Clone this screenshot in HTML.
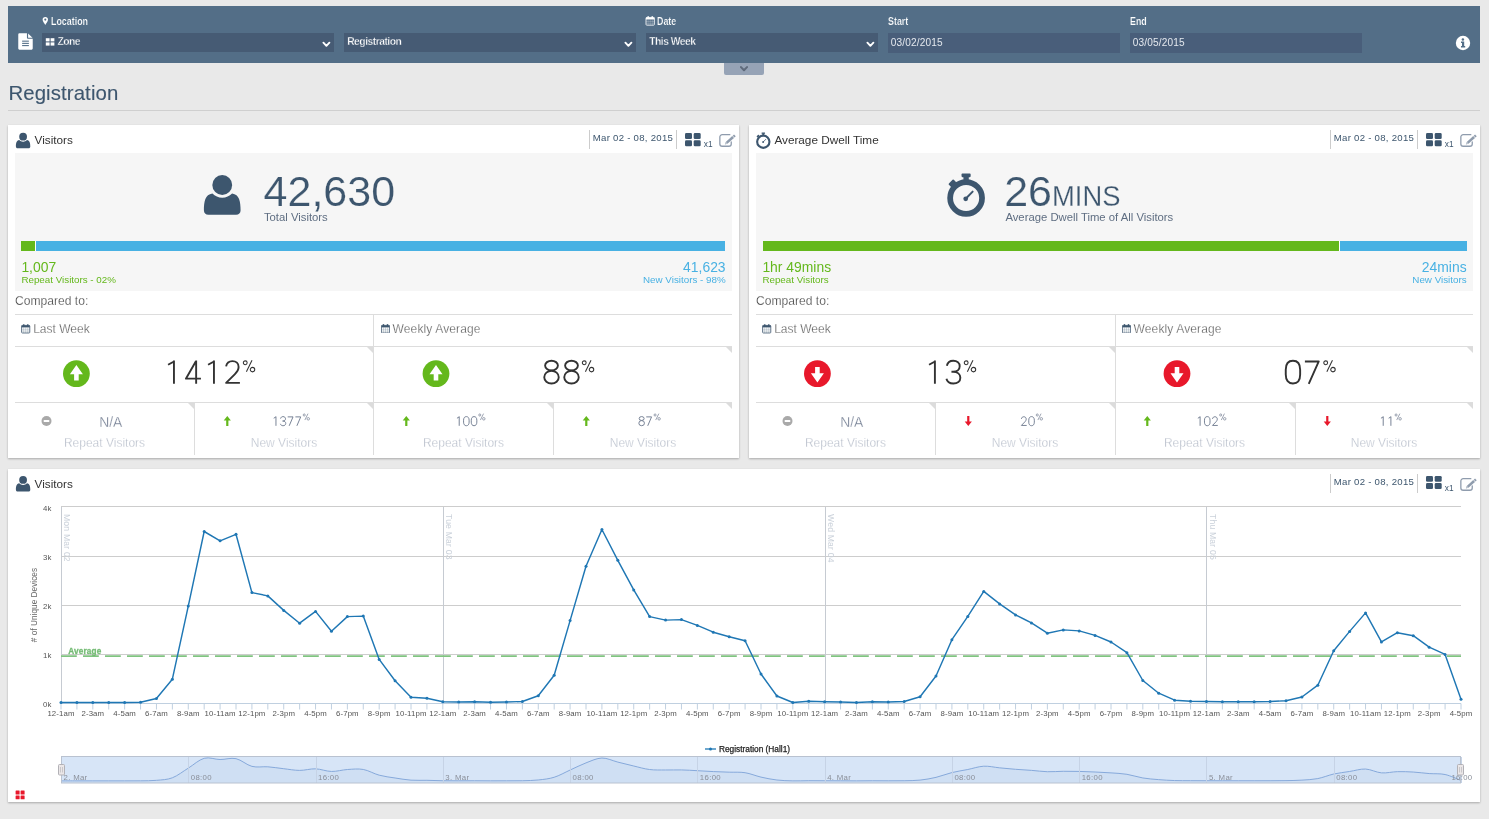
<!DOCTYPE html>
<html><head><meta charset="utf-8"><title>Registration</title>
<style>
*{box-sizing:border-box}
html,body{margin:0;padding:0}
body{width:1489px;height:819px;background:#e9e9e9;font-family:"Liberation Sans",sans-serif;position:relative;overflow:hidden;color:#333}
.abs,.abs *{position:absolute}
div,span,svg{position:absolute;white-space:nowrap}
.bar{left:8px;top:6px;width:1472px;height:57px;background:#536e87}
.sel{top:27px;height:19px;background:#465b74}
.inp{top:27px;height:20px;background:#495e7a}
.lbl{color:#fff;font-weight:bold;font-size:10.1px;line-height:12px;top:9.7px;transform:scaleX(.88);transform-origin:0 50%;-webkit-text-stroke:.2px #536e87}
.sv{color:#fff;font-size:10.3px;line-height:12px;top:2.6px;font-weight:bold;letter-spacing:-.5px;-webkit-text-stroke:.28px #465b74}
.iv{color:#e4e8ee;font-size:10.1px;line-height:12px;top:3.6px;letter-spacing:.14px}
.tab{left:724px;top:63px;width:40px;height:12px;background:#96a3b6;border-radius:0 0 2px 2px}
h1{position:absolute;margin:0;left:8.4px;top:81px;font-size:20.4px;line-height:24px;font-weight:normal;color:#3d566e;letter-spacing:.1px;-webkit-text-stroke:.12px #3d566e}
.hr{left:8px;top:110px;width:1472px;height:1px;background:#cfcfcf}
.panel{background:#fff;box-shadow:0 1px 2px rgba(0,0,0,.28)}
.ptitle{font-size:11.75px;line-height:14px;color:#333;left:26.6px;top:8.2px}
.vline{width:1px;background:#ccc}
.pdate{font-size:9.6px;line-height:12px;color:#3d566e;top:7.4px;letter-spacing:.27px}
.x1{font-size:8.3px;line-height:10px;color:#3d566e;top:13.5px}
.gray{background:#f6f6f6;left:7px;top:28px;width:717px;height:138px}
.bignum{font-size:43px;line-height:44px;color:#3d566e;top:16.4px;-webkit-text-stroke:.2px #f6f6f6;transform:scale(1,1.005);transform-origin:0 100%}
.sub{font-size:11.3px;line-height:12px;color:#5f6e82;top:57.6px}
.pbar{top:88px;height:10px}
.lv{font-size:13.9px;line-height:14px;top:106.6px}
.ll{font-size:9.8px;line-height:11px;top:121.4px}
.cmp{font-size:12.1px;line-height:14px;left:7px;top:169px;color:#333;-webkit-text-stroke:.25px #fff}
.hl{height:1px;background:#ddd}
.vl{width:1px;background:#ddd}
.colh{font-size:12px;line-height:14px;color:#444;top:197.2px;-webkit-text-stroke:.3px #fff}
.pct{font-size:34px;line-height:36px;color:#333;top:229.2px;-webkit-text-stroke:1.3px #fff}
.pct sup{position:static;font-size:16px;line-height:0;vertical-align:14.2px;margin-left:2px;-webkit-text-stroke:.5px #fff}
.sp{font-size:13.9px;line-height:14px;color:#6f7a8f;top:289.6px;-webkit-text-stroke:.3px #fff;text-align:center}
.sp sup{position:static;font-size:8.6px;line-height:0;vertical-align:5.3px;margin-left:1px;-webkit-text-stroke:.25px #fff}
.sl{font-size:12px;line-height:14px;color:#b3bac7;top:310.8px;-webkit-text-stroke:.3px #fff;text-align:center}
.tri{width:0;height:0;border-top:6px solid #dcdcdc;border-left:6px solid transparent}
#w{left:0;top:0;width:1489px;height:819px;will-change:transform}

.cf{font-family:"Liberation Sans",sans-serif}
.chart{left:0;top:0}
</style></head>
<body>
<div id="w"><div class="bar"><svg style="left:10px;top:27px;overflow:visible" width="14.6" height="16.4" viewBox="-0.205 -0.311 15 17"><path d="M1.2 0 H9 V4.6 A1 1 0 0 0 10 5.6 H15 V15.8 A1.2 1.2 0 0 1 13.8 17 H1.2 A1.2 1.2 0 0 1 0 15.8 V1.2 A1.2 1.2 0 0 1 1.2 0 Z M10.2 0.2 L14.8 4.6 H10.2 Z" fill="#fff"/><g fill="#536e87"><rect x="4" y="7.6" width="7" height="1.1"/><rect x="4" y="9.9" width="7" height="1.1"/><rect x="4" y="12.2" width="7" height="1.1"/></g></svg><svg style="left:34px;top:11px;overflow:visible" width="5.4" height="8" viewBox="-0.600 0.000 5.4 8"><path d="M2.7 0 A2.7 2.7 0 0 1 5.4 2.7 C5.4 4.4 3.4 6.4 2.7 8 C2 6.4 0 4.4 0 2.7 A2.7 2.7 0 0 1 2.7 0 Z" fill="#fff"/><circle cx="2.7" cy="2.6" r="1.05" fill="#536e87"/></svg><span class="lbl" style="left:42.6px">Location</span><svg style="left:637px;top:10px;overflow:visible" width="9.2" height="9.6" viewBox="-0.587 0.000 9 9.4"><rect x=".4" y="1.4" width="8.2" height="7.6" rx=".8" fill="none" stroke="#fff" stroke-width=".8"/><rect x=".4" y="1.4" width="8.2" height="2" fill="#fff"/><g stroke="#fff" stroke-width=".4" stroke-opacity=".55"><path d="M2.45 3.4V9M4.5 3.4V9M6.55 3.4V9M.4 5.3H8.6M.4 7.1H8.6"/></g><rect x="1.9" y="0" width="1.2" height="2.4" rx=".5" fill="#fff"/><rect x="5.9" y="0" width="1.2" height="2.4" rx=".5" fill="#fff"/></svg><span class="lbl" style="left:649.4px">Date</span><span class="lbl" style="left:879.6px">Start</span><span class="lbl" style="left:1121.6px">End</span><div class="sel" style="left:34px;width:292px"><svg style="left:3px;top:5px;overflow:visible" width="8.6" height="7.4" viewBox="-0.800 -0.200 8.6 7.4"><g fill="#fff"><rect width="3.8" height="3.2"/><rect x="4.8" width="3.8" height="3.2"/><rect y="4.2" width="3.8" height="3.2"/><rect x="4.8" y="4.2" width="3.8" height="3.2"/></g></svg><span class="sv" style="left:15.4px">Zone</span><svg style="left:280px;top:8px;overflow:visible" width="8" height="5.6" viewBox="-0.400 -0.600 8 5.6"><path d="M1 1.1 L4 4.2 L7 1.1" fill="none" stroke="#fff" stroke-width="1.9" stroke-linecap="round" stroke-linejoin="round"/></svg></div><div class="sel" style="left:336px;width:292px"><span class="sv" style="left:3.2px">Registration</span><svg style="left:280px;top:8px;overflow:visible" width="8" height="5.6" viewBox="-0.400 -0.600 8 5.6"><path d="M1 1.1 L4 4.2 L7 1.1" fill="none" stroke="#fff" stroke-width="1.9" stroke-linecap="round" stroke-linejoin="round"/></svg></div><div class="sel" style="left:638px;width:232px"><span class="sv" style="left:3.2px">This Week</span><svg style="left:220px;top:8px;overflow:visible" width="8" height="5.6" viewBox="-0.400 -0.600 8 5.6"><path d="M1 1.1 L4 4.2 L7 1.1" fill="none" stroke="#fff" stroke-width="1.9" stroke-linecap="round" stroke-linejoin="round"/></svg></div><div class="inp" style="left:880px;width:232px"><span class="iv" style="left:2.8px">03/02/2015</span></div><div class="inp" style="left:1122px;width:232px"><span class="iv" style="left:2.8px">03/05/2015</span></div><svg style="left:1447px;top:29px;overflow:visible" width="14.4" height="14.4" viewBox="-0.800 -0.800 14.4 14.4"><circle cx="7.2" cy="7.2" r="7.2" fill="#fff"/><g fill="#536e87"><circle cx="7.1" cy="3.6" r="1.25"/><path d="M5.2 5.8 H8.4 V10.2 H9.4 V11.6 H5.2 V10.2 H6.2 V7.2 H5.2 Z"/></g></svg></div><div class="tab"><svg style="left:16px;top:3px" width="8" height="5.6" viewBox="0 0 8 5.6"><path d="M1 1.1 L4 4.2 L7 1.1" fill="none" stroke="#5f6a7b" stroke-width="2.05" stroke-linecap="round" stroke-linejoin="round"/></svg></div><h1>Registration</h1><div class="hr"></div><div class="panel" style="left:8px;top:125px;width:731px;height:333px"><svg class="" style="left:7px;top:7px;overflow:visible" width="14.4" height="15.6" viewBox="-2.313 -2.051 37 40"><path fill="#3d566e" d="M4.5 40 C1.8 40 0 38.4 0 35.5 C0 27 1.2 19.6 8.6 18.6 C11.2 21.3 14.6 22.8 18.5 22.8 C22.4 22.8 25.8 21.3 28.4 18.6 C35.8 19.6 37 27 37 35.5 C37 38.4 35.2 40 32.5 40 Z"/><circle cx="18.5" cy="10" r="11.4" fill="#fff"/><circle cx="18.5" cy="10" r="10" fill="#3d566e"/></svg><span class="ptitle" style="left:26.6px">Visitors</span><div class="vline" style="left:581px;top:5px;height:19px"></div><span class="pdate" style="left:584.8px">Mar 02 - 08, 2015</span><div class="vline" style="left:668px;top:5px;height:19px"></div><svg style="left:677px;top:8px;overflow:visible" width="15.7" height="13.1" viewBox="0.000 -0.100 15.7 13.1"><g fill="#3d566e"><rect x="0" y="0" width="7" height="5.9" rx="1.3"/><rect x="8.7" y="0" width="7" height="5.9" rx="1.3"/><rect x="0" y="7.2" width="7" height="5.9" rx="1.3"/><rect x="8.7" y="7.2" width="7" height="5.9" rx="1.3"/></g></svg><span class="x1" style="left:695.8px">x1</span><svg style="left:710px;top:8px;overflow:visible" width="18" height="14" viewBox="-0.600 -0.600 18 14"><path d="M11.2 1.05 H3.6 A2.35 2.35 0 0 0 1.25 3.4 V10.3 A2.35 2.35 0 0 0 3.6 12.65 H10.3 A2.35 2.35 0 0 0 12.65 10.3 V8.4" fill="none" stroke="#8f9cad" stroke-width="1.3" stroke-linecap="round"/><path d="M8 9.3 L14.5 3.4" stroke="#8f9cad" stroke-width="2.6"/><path d="M14.95 3 L16.3 1.8" stroke="#8f9cad" stroke-width="2.6"/><path d="M8.87 10.26 L7.13 8.34 L6.3 10.9 Z" fill="#8f9cad"/><circle cx="7.5" cy="9.8" r=".55" fill="#fff" fill-opacity=".7"/></svg><div class="gray"><svg class="" style="left:188px;top:21px;overflow:visible" width="36.7" height="40.3" viewBox="-0.907 -0.794 37 40"><path fill="#3d566e" d="M4.5 40 C1.8 40 0 38.4 0 35.5 C0 27 1.2 19.6 8.6 18.6 C11.2 21.3 14.6 22.8 18.5 22.8 C22.4 22.8 25.8 21.3 28.4 18.6 C35.8 19.6 37 27 37 35.5 C37 38.4 35.2 40 32.5 40 Z"/><circle cx="18.5" cy="10" r="11.4" fill="#f6f6f6"/><circle cx="18.5" cy="10" r="10" fill="#3d566e"/></svg><span class="bignum" style="left:248.6px">42,630</span><span class="sub" style="left:248.9px">Total Visitors</span><div class="pbar" style="left:6px;width:704px;background:#fff"></div><div class="pbar" style="left:6px;width:14px;background:#64b81c"></div><div class="pbar" style="left:21px;width:689px;background:#48b1e3"></div><span class="lv" style="left:6.4px;color:#64b81c">1,007</span><span class="ll" style="left:6.4px;color:#64b81c">Repeat Visitors - 02%</span><span class="lv" style="right:6.4px;color:#48b1e3">41,623</span><span class="ll" style="right:6.4px;color:#48b1e3">New Visitors - 98%</span></div><span class="cmp">Compared to:</span><div class="hl" style="left:7px;top:189px;width:717px"></div><div class="hl" style="left:7px;top:221px;width:717px"></div><div class="hl" style="left:7px;top:277px;width:717px"></div><div class="vl" style="left:365px;top:189px;height:141px"></div><div class="vl" style="left:186px;top:277px;height:53px"></div><div class="vl" style="left:545px;top:277px;height:53px"></div><div class="tri" style="left:359px;top:222px"></div><div class="tri" style="left:718px;top:222px"></div><div class="tri" style="left:180px;top:278px"></div><div class="tri" style="left:359px;top:278px"></div><div class="tri" style="left:539px;top:278px"></div><div class="tri" style="left:718px;top:278px"></div><svg style="left:13px;top:199px;overflow:visible" width="9" height="9.4" viewBox="-0.200 0.000 9 9.4"><rect x=".4" y="1.4" width="8.2" height="7.6" rx=".8" fill="none" stroke="#3d566e" stroke-width=".8"/><rect x=".4" y="1.4" width="8.2" height="2" fill="#3d566e"/><g stroke="#3d566e" stroke-width=".4" stroke-opacity=".55"><path d="M2.45 3.4V9M4.5 3.4V9M6.55 3.4V9M.4 5.3H8.6M.4 7.1H8.6"/></g><rect x="1.9" y="0" width="1.2" height="2.4" rx=".5" fill="#3d566e"/><rect x="5.9" y="0" width="1.2" height="2.4" rx=".5" fill="#3d566e"/></svg><span class="colh" style="left:25.2px">Last Week</span><svg style="left:373px;top:199px" width="9" height="9.4" viewBox="0 0 9 9.4"><rect x=".4" y="1.4" width="8.2" height="7.6" rx=".8" fill="none" stroke="#3d566e" stroke-width=".8"/><rect x=".4" y="1.4" width="8.2" height="2" fill="#3d566e"/><g stroke="#3d566e" stroke-width=".4" stroke-opacity=".55"><path d="M2.45 3.4V9M4.5 3.4V9M6.55 3.4V9M.4 5.3H8.6M.4 7.1H8.6"/></g><rect x="1.9" y="0" width="1.2" height="2.4" rx=".5" fill="#3d566e"/><rect x="5.9" y="0" width="1.2" height="2.4" rx=".5" fill="#3d566e"/></svg><span class="colh" style="left:384.6px;letter-spacing:.12px">Weekly Average</span><svg style="position:absolute;left:55px;top:235px;overflow:visible" width="26.8" height="26.8" viewBox="-0.000 -0.300 26.8 26.8"><circle cx="13.4" cy="13.4" r="13.4" fill="#64b81c"/><path d="M13.4 4.6 L19.9 13.9 H15.7 V20.2 H11.1 V13.9 H6.9 Z" fill="#fff"/></svg><svg style="left:154px;top:233px;overflow:visible" width="96" height="30" viewBox="0 0 96 30"><g transform="translate(0.50 2.50)" fill="none" stroke="#333" stroke-width="1.9" stroke-linejoin="round"><g transform="translate(0 0)"><path d="M11.45 0 V23.3 M5.6 4.3 L11.45 .95"/></g><g transform="translate(20 0)"><path d="M13.65 0 V23.3 M13.55 .6 L3.4 18.15 H18.45"/></g><g transform="translate(40 0)"><path d="M11.45 0 V23.3 M5.6 4.3 L11.45 .95"/></g><g transform="translate(60 0)"><path d="M3.6 5.9 C4.2 2.4 6.8 .6 9.9 .6 C13.6 .6 16.1 3 16.1 6.5 C16.1 9.3 14.6 11.4 12.2 13.8 L3.6 22.35 H17.4"/></g><g transform="translate(80 0)" stroke-width="1.05"><path d="M9.5 -.2 L3.9 11.3"/><circle cx="2.75" cy="2.25" r="1.9"/><circle cx="10" cy="9.1" r="2.25"/></g></g></svg><svg style="position:absolute;left:414px;top:235px;overflow:visible" width="26.8" height="26.8" viewBox="-0.600 -0.300 26.8 26.8"><circle cx="13.4" cy="13.4" r="13.4" fill="#64b81c"/><path d="M13.4 4.6 L19.9 13.9 H15.7 V20.2 H11.1 V13.9 H6.9 Z" fill="#fff"/></svg><svg style="left:533px;top:233px;overflow:visible" width="56" height="30" viewBox="0 0 56 30"><g transform="translate(0.50 2.50)" fill="none" stroke="#333" stroke-width="1.9" stroke-linejoin="round"><g transform="translate(0 0)"><ellipse cx="10" cy="5.05" rx="6.4" ry="4.85"/><ellipse cx="10" cy="16.65" rx="7.25" ry="6.4"/></g><g transform="translate(20 0)"><ellipse cx="10" cy="5.05" rx="6.4" ry="4.85"/><ellipse cx="10" cy="16.65" rx="7.25" ry="6.4"/></g><g transform="translate(40 0)" stroke-width="1.05"><path d="M9.5 -.2 L3.9 11.3"/><circle cx="2.75" cy="2.25" r="1.9"/><circle cx="10" cy="9.1" r="2.25"/></g></g></svg><svg style="position:absolute;left:33px;top:291px;overflow:visible" width="10" height="10" viewBox="-0.500 0.000 10 10"><circle cx="5" cy="5" r="5" fill="#a9a9a9"/><rect x="2.2" y="4" width="5.6" height="2" rx=".6" fill="#fff"/></svg><span class="sp" style="left:13.3px;width:179px">N/A</span><span class="sl" style="left:7px;width:179px">Repeat Visitors</span><svg style="position:absolute;left:215px;top:291px;overflow:visible" width="7.2" height="10" viewBox="-0.700 0.000 7.2 10"><path d="M3.6 0 L7.2 4.6 H4.7 V10 H2.5 V4.6 H0 Z" fill="#64b81c"/></svg><svg style="left:263px;top:287px;overflow:visible" width="40.8" height="18" viewBox="0 0 40.8 18"><g transform="translate(0.55 4.50)" fill="none" stroke="#737e92" stroke-linejoin="round"><g transform="scale(0.385 0.4)" stroke-width="2.45"><g transform="translate(0 0)"><path d="M11.45 0 V23.3 M5.6 4.3 L11.45 .95"/></g><g transform="translate(20 0)"><path d="M3.4 5.3 C4.1 2 6.6 .25 9.8 .25 C13.6 .25 16.25 2.4 16.25 5.7 C16.25 9.1 13.6 11.3 9.6 11.3 H8 M9.6 11.3 C14 11.3 16.9 13.6 16.9 17.3 C16.9 20.8 14 23.05 9.9 23.05 C6.3 23.05 3.7 21.4 3 18.3"/></g><g transform="translate(40 0)"><path d="M1.95 .95 H15.8 L5.8 23.3"/></g><g transform="translate(60 0)"><path d="M1.95 .95 H15.8 L5.8 23.3"/></g></g><g transform="translate(31.150000000000002 -2.75) scale(0.557)" stroke-width="1.25"><path d="M9.5 -.2 L3.9 11.3"/><circle cx="2.75" cy="2.25" r="1.9"/><circle cx="10" cy="9.1" r="2.25"/></g></g></svg><span class="sl" style="left:187px;width:178px">New Visitors</span><svg style="position:absolute;left:394px;top:291px;overflow:visible" width="7.2" height="10" viewBox="-0.700 0.000 7.2 10"><path d="M3.6 0 L7.2 4.6 H4.7 V10 H2.5 V4.6 H0 Z" fill="#64b81c"/></svg><svg style="left:446px;top:287px;overflow:visible" width="33.1" height="18" viewBox="0 0 33.1 18"><g transform="translate(0.80 4.50)" fill="none" stroke="#737e92" stroke-linejoin="round"><g transform="scale(0.385 0.4)" stroke-width="2.45"><g transform="translate(0 0)"><path d="M11.45 0 V23.3 M5.6 4.3 L11.45 .95"/></g><g transform="translate(20 0)"><path d="M10 .25 C14.6 .25 17.2 3.6 17.2 9.2 V14.1 C17.2 19.7 14.6 23.05 10 23.05 C5.4 23.05 2.8 19.7 2.8 14.1 V9.2 C2.8 3.6 5.4 .25 10 .25 Z"/></g><g transform="translate(40 0)"><path d="M10 .25 C14.6 .25 17.2 3.6 17.2 9.2 V14.1 C17.2 19.7 14.6 23.05 10 23.05 C5.4 23.05 2.8 19.7 2.8 14.1 V9.2 C2.8 3.6 5.4 .25 10 .25 Z"/></g></g><g transform="translate(23.450000000000003 -2.75) scale(0.557)" stroke-width="1.25"><path d="M9.5 -.2 L3.9 11.3"/><circle cx="2.75" cy="2.25" r="1.9"/><circle cx="10" cy="9.1" r="2.25"/></g></g></svg><span class="sl" style="left:366px;width:179px">Repeat Visitors</span><svg style="position:absolute;left:574px;top:291px;overflow:visible" width="7.2" height="10" viewBox="-0.700 0.000 7.2 10"><path d="M3.6 0 L7.2 4.6 H4.7 V10 H2.5 V4.6 H0 Z" fill="#64b81c"/></svg><svg style="left:629px;top:287px;overflow:visible" width="25.4" height="18" viewBox="0 0 25.4 18"><g transform="translate(0.80 4.50)" fill="none" stroke="#737e92" stroke-linejoin="round"><g transform="scale(0.385 0.4)" stroke-width="2.45"><g transform="translate(0 0)"><ellipse cx="10" cy="5.05" rx="6.4" ry="4.85"/><ellipse cx="10" cy="16.65" rx="7.25" ry="6.4"/></g><g transform="translate(20 0)"><path d="M1.95 .95 H15.8 L5.8 23.3"/></g></g><g transform="translate(15.75 -2.75) scale(0.557)" stroke-width="1.25"><path d="M9.5 -.2 L3.9 11.3"/><circle cx="2.75" cy="2.25" r="1.9"/><circle cx="10" cy="9.1" r="2.25"/></g></g></svg><span class="sl" style="left:546px;width:178px">New Visitors</span></div><div class="panel" style="left:749px;top:125px;width:731px;height:333px"><svg class="" style="left:7px;top:7px;overflow:visible" width="14.6" height="16.7" viewBox="0.000 -1.054 38 44"><g fill="#3d566e"><rect x="14.4" y="0" width="9.2" height="3.6" rx=".8"/><rect x="16.3" y="2" width="5.4" height="5"/><rect x="1.6" y="7.4" width="7" height="4.6" rx=".9" transform="rotate(-45 5.1 9.7)"/></g><circle cx="19" cy="24.6" r="16.2" fill="none" stroke="#3d566e" stroke-width="5.6"/><circle cx="18.6" cy="25.4" r="2.4" fill="#3d566e"/><path d="M18.6 25.4 L25.6 18.2" stroke="#3d566e" stroke-width="2" stroke-linecap="round"/></svg><span class="ptitle" style="left:25.4px">Average Dwell Time</span><div class="vline" style="left:581px;top:5px;height:19px"></div><span class="pdate" style="left:584.8px">Mar 02 - 08, 2015</span><div class="vline" style="left:668px;top:5px;height:19px"></div><svg style="left:677px;top:8px;overflow:visible" width="15.7" height="13.1" viewBox="0.000 -0.100 15.7 13.1"><g fill="#3d566e"><rect x="0" y="0" width="7" height="5.9" rx="1.3"/><rect x="8.7" y="0" width="7" height="5.9" rx="1.3"/><rect x="0" y="7.2" width="7" height="5.9" rx="1.3"/><rect x="8.7" y="7.2" width="7" height="5.9" rx="1.3"/></g></svg><span class="x1" style="left:695.8px">x1</span><svg style="left:710px;top:8px;overflow:visible" width="18" height="14" viewBox="-0.600 -0.600 18 14"><path d="M11.2 1.05 H3.6 A2.35 2.35 0 0 0 1.25 3.4 V10.3 A2.35 2.35 0 0 0 3.6 12.65 H10.3 A2.35 2.35 0 0 0 12.65 10.3 V8.4" fill="none" stroke="#8f9cad" stroke-width="1.3" stroke-linecap="round"/><path d="M8 9.3 L14.5 3.4" stroke="#8f9cad" stroke-width="2.6"/><path d="M14.95 3 L16.3 1.8" stroke="#8f9cad" stroke-width="2.6"/><path d="M8.87 10.26 L7.13 8.34 L6.3 10.9 Z" fill="#8f9cad"/><circle cx="7.5" cy="9.8" r=".55" fill="#fff" fill-opacity=".7"/></svg><div class="gray"><svg class="" style="left:191px;top:20px;overflow:visible" width="38" height="43.6" viewBox="-0.100 -0.606 38 44"><g fill="#3d566e"><rect x="14.4" y="0" width="9.2" height="3.6" rx=".8"/><rect x="16.3" y="2" width="5.4" height="5"/><rect x="1.6" y="7.4" width="7" height="4.6" rx=".9" transform="rotate(-45 5.1 9.7)"/></g><circle cx="19" cy="24.6" r="16.1" fill="none" stroke="#3d566e" stroke-width="5.8"/><circle cx="18.6" cy="25.4" r="2.4" fill="#3d566e"/><path d="M18.6 25.4 L25.6 18.2" stroke="#3d566e" stroke-width="2" stroke-linecap="round"/></svg><span class="bignum" style="left:248.2px">26<span style="position:static;display:inline-block;font-size:29.6px;transform:scaleX(.925);transform-origin:0 100%;margin-left:0px;-webkit-text-stroke:.25px #f6f6f6">MINS</span></span><span class="sub" style="left:249.39999999999998px">Average Dwell Time of All Visitors</span><div class="pbar" style="left:7px;width:704px;background:#fff"></div><div class="pbar" style="left:7px;width:576px;background:#64b81c"></div><div class="pbar" style="left:584px;width:127px;background:#48b1e3"></div><span class="lv" style="left:6.4px;color:#64b81c">1hr 49mins</span><span class="ll" style="left:6.4px;color:#64b81c">Repeat Visitors</span><span class="lv" style="right:6.4px;color:#48b1e3">24mins</span><span class="ll" style="right:6.4px;color:#48b1e3">New Visitors</span></div><span class="cmp">Compared to:</span><div class="hl" style="left:7px;top:189px;width:717px"></div><div class="hl" style="left:7px;top:221px;width:717px"></div><div class="hl" style="left:7px;top:277px;width:717px"></div><div class="vl" style="left:366px;top:189px;height:141px"></div><div class="vl" style="left:186px;top:277px;height:53px"></div><div class="vl" style="left:546px;top:277px;height:53px"></div><div class="tri" style="left:360px;top:222px"></div><div class="tri" style="left:718px;top:222px"></div><div class="tri" style="left:180px;top:278px"></div><div class="tri" style="left:360px;top:278px"></div><div class="tri" style="left:540px;top:278px"></div><div class="tri" style="left:718px;top:278px"></div><svg style="left:13px;top:199px;overflow:visible" width="9" height="9.4" viewBox="-0.200 0.000 9 9.4"><rect x=".4" y="1.4" width="8.2" height="7.6" rx=".8" fill="none" stroke="#3d566e" stroke-width=".8"/><rect x=".4" y="1.4" width="8.2" height="2" fill="#3d566e"/><g stroke="#3d566e" stroke-width=".4" stroke-opacity=".55"><path d="M2.45 3.4V9M4.5 3.4V9M6.55 3.4V9M.4 5.3H8.6M.4 7.1H8.6"/></g><rect x="1.9" y="0" width="1.2" height="2.4" rx=".5" fill="#3d566e"/><rect x="5.9" y="0" width="1.2" height="2.4" rx=".5" fill="#3d566e"/></svg><span class="colh" style="left:25.2px">Last Week</span><svg style="left:373px;top:199px" width="9" height="9.4" viewBox="0 0 9 9.4"><rect x=".4" y="1.4" width="8.2" height="7.6" rx=".8" fill="none" stroke="#3d566e" stroke-width=".8"/><rect x=".4" y="1.4" width="8.2" height="2" fill="#3d566e"/><g stroke="#3d566e" stroke-width=".4" stroke-opacity=".55"><path d="M2.45 3.4V9M4.5 3.4V9M6.55 3.4V9M.4 5.3H8.6M.4 7.1H8.6"/></g><rect x="1.9" y="0" width="1.2" height="2.4" rx=".5" fill="#3d566e"/><rect x="5.9" y="0" width="1.2" height="2.4" rx=".5" fill="#3d566e"/></svg><span class="colh" style="left:384.6px;letter-spacing:.12px">Weekly Average</span><svg style="position:absolute;left:55px;top:235px;overflow:visible" width="26.8" height="26.8" viewBox="-0.000 -0.300 26.8 26.8"><circle cx="13.4" cy="13.4" r="13.4" fill="#e8182b"/><path transform="rotate(180 13.4 13.4)" d="M13.4 4.6 L19.9 13.9 H15.7 V20.2 H11.1 V13.9 H6.9 Z" fill="#fff"/></svg><svg style="left:174px;top:233px;overflow:visible" width="56" height="30" viewBox="0 0 56 30"><g transform="translate(0.45 2.50)" fill="none" stroke="#333" stroke-width="1.9" stroke-linejoin="round"><g transform="translate(0 0)"><path d="M11.45 0 V23.3 M5.6 4.3 L11.45 .95"/></g><g transform="translate(20 0)"><path d="M3.4 5.3 C4.1 2 6.6 .25 9.8 .25 C13.6 .25 16.25 2.4 16.25 5.7 C16.25 9.1 13.6 11.3 9.6 11.3 H8 M9.6 11.3 C14 11.3 16.9 13.6 16.9 17.3 C16.9 20.8 14 23.05 9.9 23.05 C6.3 23.05 3.7 21.4 3 18.3"/></g><g transform="translate(40 0)" stroke-width="1.05"><path d="M9.5 -.2 L3.9 11.3"/><circle cx="2.75" cy="2.25" r="1.9"/><circle cx="10" cy="9.1" r="2.25"/></g></g></svg><svg style="position:absolute;left:414px;top:235px;overflow:visible" width="26.8" height="26.8" viewBox="-0.600 -0.300 26.8 26.8"><circle cx="13.4" cy="13.4" r="13.4" fill="#e8182b"/><path transform="rotate(180 13.4 13.4)" d="M13.4 4.6 L19.9 13.9 H15.7 V20.2 H11.1 V13.9 H6.9 Z" fill="#fff"/></svg><svg style="left:533px;top:233px;overflow:visible" width="56" height="30" viewBox="0 0 56 30"><g transform="translate(0.95 2.50)" fill="none" stroke="#333" stroke-width="1.9" stroke-linejoin="round"><g transform="translate(0 0)"><path d="M10 .25 C14.6 .25 17.2 3.6 17.2 9.2 V14.1 C17.2 19.7 14.6 23.05 10 23.05 C5.4 23.05 2.8 19.7 2.8 14.1 V9.2 C2.8 3.6 5.4 .25 10 .25 Z"/></g><g transform="translate(20 0)"><path d="M1.95 .95 H15.8 L5.8 23.3"/></g><g transform="translate(40 0)" stroke-width="1.05"><path d="M9.5 -.2 L3.9 11.3"/><circle cx="2.75" cy="2.25" r="1.9"/><circle cx="10" cy="9.1" r="2.25"/></g></g></svg><svg style="position:absolute;left:33px;top:291px;overflow:visible" width="10" height="10" viewBox="-0.500 0.000 10 10"><circle cx="5" cy="5" r="5" fill="#a9a9a9"/><rect x="2.2" y="4" width="5.6" height="2" rx=".6" fill="#fff"/></svg><span class="sp" style="left:13.3px;width:179px">N/A</span><span class="sl" style="left:7px;width:179px">Repeat Visitors</span><svg style="position:absolute;left:215px;top:291px;overflow:visible" width="7.2" height="10" viewBox="-0.700 0.000 7.2 10"><path transform="rotate(180 3.6 5)" d="M3.6 0 L7.2 4.6 H4.7 V10 H2.5 V4.6 H0 Z" fill="#e8182b"/></svg><svg style="left:271px;top:287px;overflow:visible" width="25.4" height="18" viewBox="0 0 25.4 18"><g transform="translate(0.00 4.50)" fill="none" stroke="#737e92" stroke-linejoin="round"><g transform="scale(0.385 0.4)" stroke-width="2.45"><g transform="translate(0 0)"><path d="M3.6 5.9 C4.2 2.4 6.8 .6 9.9 .6 C13.6 .6 16.1 3 16.1 6.5 C16.1 9.3 14.6 11.4 12.2 13.8 L3.6 22.35 H17.4"/></g><g transform="translate(20 0)"><path d="M10 .25 C14.6 .25 17.2 3.6 17.2 9.2 V14.1 C17.2 19.7 14.6 23.05 10 23.05 C5.4 23.05 2.8 19.7 2.8 14.1 V9.2 C2.8 3.6 5.4 .25 10 .25 Z"/></g></g><g transform="translate(15.75 -2.75) scale(0.557)" stroke-width="1.25"><path d="M9.5 -.2 L3.9 11.3"/><circle cx="2.75" cy="2.25" r="1.9"/><circle cx="10" cy="9.1" r="2.25"/></g></g></svg><span class="sl" style="left:187px;width:178px">New Visitors</span><svg style="position:absolute;left:394px;top:291px;overflow:visible" width="7.2" height="10" viewBox="-0.700 0.000 7.2 10"><path d="M3.6 0 L7.2 4.6 H4.7 V10 H2.5 V4.6 H0 Z" fill="#64b81c"/></svg><svg style="left:446px;top:287px;overflow:visible" width="33.1" height="18" viewBox="0 0 33.1 18"><g transform="translate(0.70 4.50)" fill="none" stroke="#737e92" stroke-linejoin="round"><g transform="scale(0.385 0.4)" stroke-width="2.45"><g transform="translate(0 0)"><path d="M11.45 0 V23.3 M5.6 4.3 L11.45 .95"/></g><g transform="translate(20 0)"><path d="M10 .25 C14.6 .25 17.2 3.6 17.2 9.2 V14.1 C17.2 19.7 14.6 23.05 10 23.05 C5.4 23.05 2.8 19.7 2.8 14.1 V9.2 C2.8 3.6 5.4 .25 10 .25 Z"/></g><g transform="translate(40 0)"><path d="M3.6 5.9 C4.2 2.4 6.8 .6 9.9 .6 C13.6 .6 16.1 3 16.1 6.5 C16.1 9.3 14.6 11.4 12.2 13.8 L3.6 22.35 H17.4"/></g></g><g transform="translate(23.450000000000003 -2.75) scale(0.557)" stroke-width="1.25"><path d="M9.5 -.2 L3.9 11.3"/><circle cx="2.75" cy="2.25" r="1.9"/><circle cx="10" cy="9.1" r="2.25"/></g></g></svg><span class="sl" style="left:366px;width:179px">Repeat Visitors</span><svg style="position:absolute;left:574px;top:291px;overflow:visible" width="7.2" height="10" viewBox="-0.700 0.000 7.2 10"><path transform="rotate(180 3.6 5)" d="M3.6 0 L7.2 4.6 H4.7 V10 H2.5 V4.6 H0 Z" fill="#e8182b"/></svg><svg style="left:629px;top:287px;overflow:visible" width="25.4" height="18" viewBox="0 0 25.4 18"><g transform="translate(0.80 4.50)" fill="none" stroke="#737e92" stroke-linejoin="round"><g transform="scale(0.385 0.4)" stroke-width="2.45"><g transform="translate(0 0)"><path d="M11.45 0 V23.3 M5.6 4.3 L11.45 .95"/></g><g transform="translate(20 0)"><path d="M11.45 0 V23.3 M5.6 4.3 L11.45 .95"/></g></g><g transform="translate(15.75 -2.75) scale(0.557)" stroke-width="1.25"><path d="M9.5 -.2 L3.9 11.3"/><circle cx="2.75" cy="2.25" r="1.9"/><circle cx="10" cy="9.1" r="2.25"/></g></g></svg><span class="sl" style="left:546px;width:178px">New Visitors</span></div><div class="panel" style="left:8px;top:469px;width:1472px;height:333px"><svg class="" style="left:7px;top:7px;overflow:visible" width="14.4" height="15.6" viewBox="-2.313 0.000 37 40"><path fill="#3d566e" d="M4.5 40 C1.8 40 0 38.4 0 35.5 C0 27 1.2 19.6 8.6 18.6 C11.2 21.3 14.6 22.8 18.5 22.8 C22.4 22.8 25.8 21.3 28.4 18.6 C35.8 19.6 37 27 37 35.5 C37 38.4 35.2 40 32.5 40 Z"/><circle cx="18.5" cy="10" r="11.4" fill="#fff"/><circle cx="18.5" cy="10" r="10" fill="#3d566e"/></svg><span class="ptitle" style="top:8.4px">Visitors</span><div class="vline" style="left:1322px;top:5px;height:19px"></div><span class="pdate" style="left:1325.8px">Mar 02 - 08, 2015</span><div class="vline" style="left:1409px;top:5px;height:19px"></div><svg style="left:1418px;top:6px;overflow:visible" width="15.7" height="13.1" viewBox="0.000 -0.900 15.7 13.1"><g fill="#3d566e"><rect x="0" y="0" width="7" height="5.9" rx="1.3"/><rect x="8.7" y="0" width="7" height="5.9" rx="1.3"/><rect x="0" y="7.2" width="7" height="5.9" rx="1.3"/><rect x="8.7" y="7.2" width="7" height="5.9" rx="1.3"/></g></svg><span class="x1" style="left:1436.8px">x1</span><svg style="left:1451px;top:8px;overflow:visible" width="18" height="14" viewBox="-0.600 -0.600 18 14"><path d="M11.2 1.05 H3.6 A2.35 2.35 0 0 0 1.25 3.4 V10.3 A2.35 2.35 0 0 0 3.6 12.65 H10.3 A2.35 2.35 0 0 0 12.65 10.3 V8.4" fill="none" stroke="#8f9cad" stroke-width="1.3" stroke-linecap="round"/><path d="M8 9.3 L14.5 3.4" stroke="#8f9cad" stroke-width="2.6"/><path d="M14.95 3 L16.3 1.8" stroke="#8f9cad" stroke-width="2.6"/><path d="M8.87 10.26 L7.13 8.34 L6.3 10.9 Z" fill="#8f9cad"/><circle cx="7.5" cy="9.8" r=".55" fill="#fff" fill-opacity=".7"/></svg><svg style="left:7px;top:321px;overflow:visible" width="9" height="8.6" viewBox="-0.600 -0.600 9 8.6"><g fill="#e8182b"><rect width="4" height="3.8" rx=".5"/><rect x="5" width="4" height="3.8" rx=".5"/><rect y="4.8" width="4" height="3.8" rx=".5"/><rect x="5" y="4.8" width="4" height="3.8" rx=".5"/></g></svg><svg class="chart" width="1472" height="333" viewBox="8 469 1472 333">
<g stroke="#cdcdcd" stroke-width="1" fill="none" shape-rendering="crispEdges"><path d="M61 506.5 H1461"/><path d="M61 556.5 H1461"/><path d="M61 605.5 H1461"/><path d="M61 654.5 H1461"/></g>
<g stroke="#c6cbd2" stroke-width="1" fill="none" shape-rendering="crispEdges"><path d="M61.5 506.5 V703.5"/><path d="M443.5 506.5 V703.5"/><path d="M825.5 506.5 V703.5"/><path d="M1206.5 506.5 V703.5"/></g>
<g stroke="#c0d0e0" stroke-width="1" fill="none"><path d="M61 703.5 v6"/><path d="M76.91 703.5 v6"/><path d="M92.82 703.5 v6"/><path d="M108.73 703.5 v6"/><path d="M124.64 703.5 v6"/><path d="M140.55 703.5 v6"/><path d="M156.45 703.5 v6"/><path d="M172.36 703.5 v6"/><path d="M188.27 703.5 v6"/><path d="M204.18 703.5 v6"/><path d="M220.09 703.5 v6"/><path d="M236 703.5 v6"/><path d="M251.91 703.5 v6"/><path d="M267.82 703.5 v6"/><path d="M283.73 703.5 v6"/><path d="M299.64 703.5 v6"/><path d="M315.55 703.5 v6"/><path d="M331.45 703.5 v6"/><path d="M347.36 703.5 v6"/><path d="M363.27 703.5 v6"/><path d="M379.18 703.5 v6"/><path d="M395.09 703.5 v6"/><path d="M411 703.5 v6"/><path d="M426.91 703.5 v6"/><path d="M442.82 703.5 v6"/><path d="M458.73 703.5 v6"/><path d="M474.64 703.5 v6"/><path d="M490.55 703.5 v6"/><path d="M506.45 703.5 v6"/><path d="M522.36 703.5 v6"/><path d="M538.27 703.5 v6"/><path d="M554.18 703.5 v6"/><path d="M570.09 703.5 v6"/><path d="M586 703.5 v6"/><path d="M601.91 703.5 v6"/><path d="M617.82 703.5 v6"/><path d="M633.73 703.5 v6"/><path d="M649.64 703.5 v6"/><path d="M665.55 703.5 v6"/><path d="M681.45 703.5 v6"/><path d="M697.36 703.5 v6"/><path d="M713.27 703.5 v6"/><path d="M729.18 703.5 v6"/><path d="M745.09 703.5 v6"/><path d="M761 703.5 v6"/><path d="M776.91 703.5 v6"/><path d="M792.82 703.5 v6"/><path d="M808.73 703.5 v6"/><path d="M824.64 703.5 v6"/><path d="M840.55 703.5 v6"/><path d="M856.45 703.5 v6"/><path d="M872.36 703.5 v6"/><path d="M888.27 703.5 v6"/><path d="M904.18 703.5 v6"/><path d="M920.09 703.5 v6"/><path d="M936 703.5 v6"/><path d="M951.91 703.5 v6"/><path d="M967.82 703.5 v6"/><path d="M983.73 703.5 v6"/><path d="M999.64 703.5 v6"/><path d="M1015.55 703.5 v6"/><path d="M1031.45 703.5 v6"/><path d="M1047.36 703.5 v6"/><path d="M1063.27 703.5 v6"/><path d="M1079.18 703.5 v6"/><path d="M1095.09 703.5 v6"/><path d="M1111 703.5 v6"/><path d="M1126.91 703.5 v6"/><path d="M1142.82 703.5 v6"/><path d="M1158.73 703.5 v6"/><path d="M1174.64 703.5 v6"/><path d="M1190.55 703.5 v6"/><path d="M1206.45 703.5 v6"/><path d="M1222.36 703.5 v6"/><path d="M1238.27 703.5 v6"/><path d="M1254.18 703.5 v6"/><path d="M1270.09 703.5 v6"/><path d="M1286 703.5 v6"/><path d="M1301.91 703.5 v6"/><path d="M1317.82 703.5 v6"/><path d="M1333.73 703.5 v6"/><path d="M1349.64 703.5 v6"/><path d="M1365.55 703.5 v6"/><path d="M1381.45 703.5 v6"/><path d="M1397.36 703.5 v6"/><path d="M1413.27 703.5 v6"/><path d="M1429.18 703.5 v6"/><path d="M1445.09 703.5 v6"/><path d="M1461 703.5 v6"/></g><path d="M61 703.5 H1461" stroke="#c0d0e0" stroke-width="1" shape-rendering="crispEdges"/>
<g font-size="8.6" fill="#cad1da" class="cf" letter-spacing=".2"><text transform="translate(64.2 514) rotate(90)">Mon Mar 02</text><text transform="translate(446.02 514) rotate(90)">Tue Mar 03</text><text transform="translate(827.84 514) rotate(90)">Wed Mar 04</text><text transform="translate(1209.65 514) rotate(90)">Thu Mar 05</text></g>
<path d="M61 656.1 H1461" stroke="#80c480" stroke-width="1.9" stroke-dasharray="15.8 6.2"/>
<text x="68.3" y="653.7" font-size="8.2" font-weight="bold" fill="#74bb74" stroke="#74bb74" stroke-width=".3" class="cf" letter-spacing=".15">Average</text>
<path d="M61 702.5 L76.91 702.5 L92.82 702.5 L108.73 702.5 L124.64 702.5 L140.55 702.25 L156.45 698.5 L172.36 679.2 L188.27 606.1 L204.18 531.5 L220.09 540.8 L236 534.3 L251.91 592.6 L267.82 595.9 L283.73 610.4 L299.64 623.2 L315.55 611.4 L331.45 631.2 L347.36 616.6 L363.27 616.1 L379.18 659.4 L395.09 680.7 L411 697.2 L426.91 698.2 L442.82 701.7 L458.73 702 L474.64 701.7 L490.55 702.2 L506.45 702 L522.36 701.5 L538.27 695.7 L554.18 675.2 L570.09 620.6 L586 566.3 L601.91 529.5 L617.82 560.3 L633.73 589.9 L649.64 616.6 L665.55 620.1 L681.45 619.6 L697.36 625.4 L713.27 632.2 L729.18 636.7 L745.09 640.7 L761 674 L776.91 696 L792.82 702.5 L808.73 701.2 L824.64 701.7 L840.55 702 L856.45 702.5 L872.36 701.7 L888.27 702 L904.18 701.5 L920.09 696.7 L936 676 L951.91 639.7 L967.82 616.4 L983.73 591.4 L999.64 603.9 L1015.55 614.9 L1031.45 622.9 L1047.36 633.2 L1063.27 629.9 L1079.18 630.9 L1095.09 635.4 L1111 642 L1126.91 652.7 L1142.82 680.5 L1158.73 693.2 L1174.64 700.2 L1190.55 701.2 L1206.45 701.5 L1222.36 701.7 L1238.27 701.7 L1254.18 701.7 L1270.09 701.5 L1286 700.7 L1301.91 697 L1317.82 685.2 L1333.73 650.7 L1349.64 631.4 L1365.55 612.9 L1381.45 641.9 L1397.36 632.7 L1413.27 635.7 L1429.18 647.2 L1445.09 654.4 L1461 699.2" fill="none" stroke="#1f77b4" stroke-width="1.45" stroke-linejoin="round" stroke-linecap="round"/>
<g fill="#1f77b4"><circle cx="61" cy="702.5" r="1.5"/><circle cx="76.91" cy="702.5" r="1.5"/><circle cx="92.82" cy="702.5" r="1.5"/><circle cx="108.73" cy="702.5" r="1.5"/><circle cx="124.64" cy="702.5" r="1.5"/><circle cx="140.55" cy="702.25" r="1.5"/><circle cx="156.45" cy="698.5" r="1.5"/><circle cx="172.36" cy="679.2" r="1.5"/><circle cx="188.27" cy="606.1" r="1.5"/><circle cx="204.18" cy="531.5" r="1.5"/><circle cx="220.09" cy="540.8" r="1.5"/><circle cx="236" cy="534.3" r="1.5"/><circle cx="251.91" cy="592.6" r="1.5"/><circle cx="267.82" cy="595.9" r="1.5"/><circle cx="283.73" cy="610.4" r="1.5"/><circle cx="299.64" cy="623.2" r="1.5"/><circle cx="315.55" cy="611.4" r="1.5"/><circle cx="331.45" cy="631.2" r="1.5"/><circle cx="347.36" cy="616.6" r="1.5"/><circle cx="363.27" cy="616.1" r="1.5"/><circle cx="379.18" cy="659.4" r="1.5"/><circle cx="395.09" cy="680.7" r="1.5"/><circle cx="411" cy="697.2" r="1.5"/><circle cx="426.91" cy="698.2" r="1.5"/><circle cx="442.82" cy="701.7" r="1.5"/><circle cx="458.73" cy="702" r="1.5"/><circle cx="474.64" cy="701.7" r="1.5"/><circle cx="490.55" cy="702.2" r="1.5"/><circle cx="506.45" cy="702" r="1.5"/><circle cx="522.36" cy="701.5" r="1.5"/><circle cx="538.27" cy="695.7" r="1.5"/><circle cx="554.18" cy="675.2" r="1.5"/><circle cx="570.09" cy="620.6" r="1.5"/><circle cx="586" cy="566.3" r="1.5"/><circle cx="601.91" cy="529.5" r="1.5"/><circle cx="617.82" cy="560.3" r="1.5"/><circle cx="633.73" cy="589.9" r="1.5"/><circle cx="649.64" cy="616.6" r="1.5"/><circle cx="665.55" cy="620.1" r="1.5"/><circle cx="681.45" cy="619.6" r="1.5"/><circle cx="697.36" cy="625.4" r="1.5"/><circle cx="713.27" cy="632.2" r="1.5"/><circle cx="729.18" cy="636.7" r="1.5"/><circle cx="745.09" cy="640.7" r="1.5"/><circle cx="761" cy="674" r="1.5"/><circle cx="776.91" cy="696" r="1.5"/><circle cx="792.82" cy="702.5" r="1.5"/><circle cx="808.73" cy="701.2" r="1.5"/><circle cx="824.64" cy="701.7" r="1.5"/><circle cx="840.55" cy="702" r="1.5"/><circle cx="856.45" cy="702.5" r="1.5"/><circle cx="872.36" cy="701.7" r="1.5"/><circle cx="888.27" cy="702" r="1.5"/><circle cx="904.18" cy="701.5" r="1.5"/><circle cx="920.09" cy="696.7" r="1.5"/><circle cx="936" cy="676" r="1.5"/><circle cx="951.91" cy="639.7" r="1.5"/><circle cx="967.82" cy="616.4" r="1.5"/><circle cx="983.73" cy="591.4" r="1.5"/><circle cx="999.64" cy="603.9" r="1.5"/><circle cx="1015.55" cy="614.9" r="1.5"/><circle cx="1031.45" cy="622.9" r="1.5"/><circle cx="1047.36" cy="633.2" r="1.5"/><circle cx="1063.27" cy="629.9" r="1.5"/><circle cx="1079.18" cy="630.9" r="1.5"/><circle cx="1095.09" cy="635.4" r="1.5"/><circle cx="1111" cy="642" r="1.5"/><circle cx="1126.91" cy="652.7" r="1.5"/><circle cx="1142.82" cy="680.5" r="1.5"/><circle cx="1158.73" cy="693.2" r="1.5"/><circle cx="1174.64" cy="700.2" r="1.5"/><circle cx="1190.55" cy="701.2" r="1.5"/><circle cx="1206.45" cy="701.5" r="1.5"/><circle cx="1222.36" cy="701.7" r="1.5"/><circle cx="1238.27" cy="701.7" r="1.5"/><circle cx="1254.18" cy="701.7" r="1.5"/><circle cx="1270.09" cy="701.5" r="1.5"/><circle cx="1286" cy="700.7" r="1.5"/><circle cx="1301.91" cy="697" r="1.5"/><circle cx="1317.82" cy="685.2" r="1.5"/><circle cx="1333.73" cy="650.7" r="1.5"/><circle cx="1349.64" cy="631.4" r="1.5"/><circle cx="1365.55" cy="612.9" r="1.5"/><circle cx="1381.45" cy="641.9" r="1.5"/><circle cx="1397.36" cy="632.7" r="1.5"/><circle cx="1413.27" cy="635.7" r="1.5"/><circle cx="1429.18" cy="647.2" r="1.5"/><circle cx="1445.09" cy="654.4" r="1.5"/><circle cx="1461" cy="699.2" r="1.5"/></g>
<g font-size="7.8" fill="#555" class="cf" letter-spacing=".12"><text x="61" y="716.2" text-anchor="middle">12-1am</text><text x="92.82" y="716.2" text-anchor="middle">2-3am</text><text x="124.64" y="716.2" text-anchor="middle">4-5am</text><text x="156.45" y="716.2" text-anchor="middle">6-7am</text><text x="188.27" y="716.2" text-anchor="middle">8-9am</text><text x="220.09" y="716.2" text-anchor="middle">10-11am</text><text x="251.91" y="716.2" text-anchor="middle">12-1pm</text><text x="283.73" y="716.2" text-anchor="middle">2-3pm</text><text x="315.55" y="716.2" text-anchor="middle">4-5pm</text><text x="347.36" y="716.2" text-anchor="middle">6-7pm</text><text x="379.18" y="716.2" text-anchor="middle">8-9pm</text><text x="411" y="716.2" text-anchor="middle">10-11pm</text><text x="442.82" y="716.2" text-anchor="middle">12-1am</text><text x="474.64" y="716.2" text-anchor="middle">2-3am</text><text x="506.45" y="716.2" text-anchor="middle">4-5am</text><text x="538.27" y="716.2" text-anchor="middle">6-7am</text><text x="570.09" y="716.2" text-anchor="middle">8-9am</text><text x="601.91" y="716.2" text-anchor="middle">10-11am</text><text x="633.73" y="716.2" text-anchor="middle">12-1pm</text><text x="665.55" y="716.2" text-anchor="middle">2-3pm</text><text x="697.36" y="716.2" text-anchor="middle">4-5pm</text><text x="729.18" y="716.2" text-anchor="middle">6-7pm</text><text x="761" y="716.2" text-anchor="middle">8-9pm</text><text x="792.82" y="716.2" text-anchor="middle">10-11pm</text><text x="824.64" y="716.2" text-anchor="middle">12-1am</text><text x="856.45" y="716.2" text-anchor="middle">2-3am</text><text x="888.27" y="716.2" text-anchor="middle">4-5am</text><text x="920.09" y="716.2" text-anchor="middle">6-7am</text><text x="951.91" y="716.2" text-anchor="middle">8-9am</text><text x="983.73" y="716.2" text-anchor="middle">10-11am</text><text x="1015.55" y="716.2" text-anchor="middle">12-1pm</text><text x="1047.36" y="716.2" text-anchor="middle">2-3pm</text><text x="1079.18" y="716.2" text-anchor="middle">4-5pm</text><text x="1111" y="716.2" text-anchor="middle">6-7pm</text><text x="1142.82" y="716.2" text-anchor="middle">8-9pm</text><text x="1174.64" y="716.2" text-anchor="middle">10-11pm</text><text x="1206.45" y="716.2" text-anchor="middle">12-1am</text><text x="1238.27" y="716.2" text-anchor="middle">2-3am</text><text x="1270.09" y="716.2" text-anchor="middle">4-5am</text><text x="1301.91" y="716.2" text-anchor="middle">6-7am</text><text x="1333.73" y="716.2" text-anchor="middle">8-9am</text><text x="1365.55" y="716.2" text-anchor="middle">10-11am</text><text x="1397.36" y="716.2" text-anchor="middle">12-1pm</text><text x="1429.18" y="716.2" text-anchor="middle">2-3pm</text><text x="1461" y="716.2" text-anchor="middle">4-5pm</text><text x="51.5" y="511.1" text-anchor="end">4k</text><text x="51.5" y="560.1" text-anchor="end">3k</text><text x="51.5" y="609.1" text-anchor="end">2k</text><text x="51.5" y="658.1" text-anchor="end">1k</text><text x="51.5" y="707.1" text-anchor="end">0k</text></g>
<text transform="translate(36.5 605) rotate(-90)" text-anchor="middle" font-size="8.3" fill="#666" class="cf"># of Unique Devices</text>
<path d="M705 749 H716" stroke="#1f77b4" stroke-width="1.3"/><circle cx="710.5" cy="749" r="1.5" fill="#1f77b4"/>
<text x="719" y="752" font-size="8.3" fill="#222" class="cf" stroke="#222" stroke-width=".25">Registration (Hall1)</text>
<rect x="61" y="756.5" width="1400" height="26.5" fill="#d7e5f7"/>
<path d="M61 780.87 C63.65 780.87 71.61 780.87 76.91 780.87 C82.21 780.87 87.52 780.87 92.82 780.87 C98.12 780.87 103.42 780.87 108.73 780.87 C114.03 780.87 119.33 780.87 124.64 780.87 C129.94 780.86 135.24 780.92 140.55 780.84 C145.85 780.75 151.15 780.85 156.45 780.34 C161.76 779.83 167.06 779.83 172.36 777.79 C177.67 775.76 182.97 771.39 188.27 768.15 C193.58 764.9 198.88 759.74 204.18 758.3 C209.48 756.86 214.79 759.47 220.09 759.53 C225.39 759.59 230.7 757.53 236 758.67 C241.3 759.81 246.61 765.01 251.91 766.36 C257.21 767.72 262.52 766.41 267.82 766.8 C273.12 767.19 278.42 768.11 283.73 768.71 C289.03 769.31 294.33 770.38 299.64 770.4 C304.94 770.42 310.24 768.67 315.55 768.84 C320.85 769.02 326.15 771.34 331.45 771.46 C336.76 771.57 342.06 769.86 347.36 769.53 C352.67 769.2 357.97 768.52 363.27 769.46 C368.58 770.41 373.88 773.76 379.18 775.18 C384.48 776.6 389.79 777.16 395.09 777.99 C400.39 778.82 405.7 779.78 411 780.17 C416.3 780.55 421.61 780.2 426.91 780.3 C432.21 780.4 437.52 780.68 442.82 780.76 C448.12 780.85 453.42 780.8 458.73 780.8 C464.03 780.8 469.33 780.76 474.64 780.76 C479.94 780.77 485.24 780.82 490.55 780.83 C495.85 780.84 501.15 780.82 506.45 780.8 C511.76 780.79 517.06 780.87 522.36 780.74 C527.67 780.6 532.97 780.55 538.27 779.97 C543.58 779.39 548.88 778.92 554.18 777.26 C559.48 775.61 564.79 772.45 570.09 770.06 C575.39 767.66 580.7 764.9 586 762.89 C591.3 760.89 596.61 758.17 601.91 758.04 C607.21 757.9 612.52 760.77 617.82 762.1 C623.12 763.43 628.42 764.77 633.73 766.01 C639.03 767.25 644.33 768.87 649.64 769.53 C654.94 770.2 660.24 769.93 665.55 769.99 C670.85 770.06 676.15 769.81 681.45 769.93 C686.76 770.04 692.06 770.42 697.36 770.69 C702.67 770.97 707.97 771.34 713.27 771.59 C718.58 771.84 723.88 772 729.18 772.18 C734.48 772.37 739.79 771.89 745.09 772.71 C750.39 773.53 755.7 775.89 761 777.11 C766.3 778.32 771.61 779.38 776.91 780.01 C782.21 780.64 787.52 780.75 792.82 780.87 C798.12 780.98 803.42 780.71 808.73 780.7 C814.03 780.68 819.33 780.74 824.64 780.76 C829.94 780.78 835.24 780.78 840.55 780.8 C845.85 780.82 851.15 780.87 856.45 780.87 C861.76 780.86 867.06 780.77 872.36 780.76 C877.67 780.75 882.97 780.81 888.27 780.8 C893.58 780.8 898.88 780.85 904.18 780.74 C909.48 780.62 914.79 780.66 920.09 780.1 C925.39 779.54 930.7 778.62 936 777.37 C941.3 776.12 946.61 773.89 951.91 772.58 C957.21 771.27 962.52 770.57 967.82 769.5 C973.12 768.44 978.42 766.48 983.73 766.21 C989.03 765.93 994.33 767.34 999.64 767.85 C1004.94 768.37 1010.24 768.89 1015.55 769.31 C1020.85 769.72 1026.15 769.96 1031.45 770.36 C1036.76 770.76 1042.06 771.57 1047.36 771.72 C1052.67 771.88 1057.97 771.34 1063.27 771.29 C1068.58 771.24 1073.88 771.3 1079.18 771.42 C1084.48 771.54 1089.79 771.77 1095.09 772.01 C1100.39 772.26 1105.7 772.5 1111 772.88 C1116.3 773.26 1121.61 773.45 1126.91 774.3 C1132.21 775.14 1137.52 777.07 1142.82 777.96 C1148.12 778.86 1153.42 779.21 1158.73 779.64 C1164.03 780.07 1169.33 780.39 1174.64 780.56 C1179.94 780.74 1185.24 780.67 1190.55 780.7 C1195.85 780.73 1201.15 780.73 1206.45 780.74 C1211.76 780.75 1217.06 780.76 1222.36 780.76 C1227.67 780.77 1232.97 780.76 1238.27 780.76 C1243.58 780.76 1248.88 780.77 1254.18 780.76 C1259.48 780.76 1264.79 780.76 1270.09 780.74 C1275.39 780.71 1280.7 780.73 1286 780.63 C1291.3 780.53 1296.61 780.48 1301.91 780.14 C1307.21 779.8 1312.52 779.6 1317.82 778.58 C1323.12 777.57 1328.42 775.21 1333.73 774.03 C1339.03 772.85 1344.33 772.32 1349.64 771.48 C1354.94 770.65 1360.24 768.81 1365.55 769.04 C1370.85 769.27 1376.15 772.43 1381.45 772.87 C1386.76 773.31 1392.06 771.79 1397.36 771.66 C1402.67 771.52 1407.97 771.73 1413.27 772.05 C1418.58 772.37 1423.88 773.16 1429.18 773.57 C1434.48 773.98 1439.79 773.38 1445.09 774.52 C1450.39 775.66 1458.35 779.45 1461 780.43 L1461.0 783.0 L61.0 783.0 Z" fill="#cfdff3"/>
<path d="M61 780.87 C63.65 780.87 71.61 780.87 76.91 780.87 C82.21 780.87 87.52 780.87 92.82 780.87 C98.12 780.87 103.42 780.87 108.73 780.87 C114.03 780.87 119.33 780.87 124.64 780.87 C129.94 780.86 135.24 780.92 140.55 780.84 C145.85 780.75 151.15 780.85 156.45 780.34 C161.76 779.83 167.06 779.83 172.36 777.79 C177.67 775.76 182.97 771.39 188.27 768.15 C193.58 764.9 198.88 759.74 204.18 758.3 C209.48 756.86 214.79 759.47 220.09 759.53 C225.39 759.59 230.7 757.53 236 758.67 C241.3 759.81 246.61 765.01 251.91 766.36 C257.21 767.72 262.52 766.41 267.82 766.8 C273.12 767.19 278.42 768.11 283.73 768.71 C289.03 769.31 294.33 770.38 299.64 770.4 C304.94 770.42 310.24 768.67 315.55 768.84 C320.85 769.02 326.15 771.34 331.45 771.46 C336.76 771.57 342.06 769.86 347.36 769.53 C352.67 769.2 357.97 768.52 363.27 769.46 C368.58 770.41 373.88 773.76 379.18 775.18 C384.48 776.6 389.79 777.16 395.09 777.99 C400.39 778.82 405.7 779.78 411 780.17 C416.3 780.55 421.61 780.2 426.91 780.3 C432.21 780.4 437.52 780.68 442.82 780.76 C448.12 780.85 453.42 780.8 458.73 780.8 C464.03 780.8 469.33 780.76 474.64 780.76 C479.94 780.77 485.24 780.82 490.55 780.83 C495.85 780.84 501.15 780.82 506.45 780.8 C511.76 780.79 517.06 780.87 522.36 780.74 C527.67 780.6 532.97 780.55 538.27 779.97 C543.58 779.39 548.88 778.92 554.18 777.26 C559.48 775.61 564.79 772.45 570.09 770.06 C575.39 767.66 580.7 764.9 586 762.89 C591.3 760.89 596.61 758.17 601.91 758.04 C607.21 757.9 612.52 760.77 617.82 762.1 C623.12 763.43 628.42 764.77 633.73 766.01 C639.03 767.25 644.33 768.87 649.64 769.53 C654.94 770.2 660.24 769.93 665.55 769.99 C670.85 770.06 676.15 769.81 681.45 769.93 C686.76 770.04 692.06 770.42 697.36 770.69 C702.67 770.97 707.97 771.34 713.27 771.59 C718.58 771.84 723.88 772 729.18 772.18 C734.48 772.37 739.79 771.89 745.09 772.71 C750.39 773.53 755.7 775.89 761 777.11 C766.3 778.32 771.61 779.38 776.91 780.01 C782.21 780.64 787.52 780.75 792.82 780.87 C798.12 780.98 803.42 780.71 808.73 780.7 C814.03 780.68 819.33 780.74 824.64 780.76 C829.94 780.78 835.24 780.78 840.55 780.8 C845.85 780.82 851.15 780.87 856.45 780.87 C861.76 780.86 867.06 780.77 872.36 780.76 C877.67 780.75 882.97 780.81 888.27 780.8 C893.58 780.8 898.88 780.85 904.18 780.74 C909.48 780.62 914.79 780.66 920.09 780.1 C925.39 779.54 930.7 778.62 936 777.37 C941.3 776.12 946.61 773.89 951.91 772.58 C957.21 771.27 962.52 770.57 967.82 769.5 C973.12 768.44 978.42 766.48 983.73 766.21 C989.03 765.93 994.33 767.34 999.64 767.85 C1004.94 768.37 1010.24 768.89 1015.55 769.31 C1020.85 769.72 1026.15 769.96 1031.45 770.36 C1036.76 770.76 1042.06 771.57 1047.36 771.72 C1052.67 771.88 1057.97 771.34 1063.27 771.29 C1068.58 771.24 1073.88 771.3 1079.18 771.42 C1084.48 771.54 1089.79 771.77 1095.09 772.01 C1100.39 772.26 1105.7 772.5 1111 772.88 C1116.3 773.26 1121.61 773.45 1126.91 774.3 C1132.21 775.14 1137.52 777.07 1142.82 777.96 C1148.12 778.86 1153.42 779.21 1158.73 779.64 C1164.03 780.07 1169.33 780.39 1174.64 780.56 C1179.94 780.74 1185.24 780.67 1190.55 780.7 C1195.85 780.73 1201.15 780.73 1206.45 780.74 C1211.76 780.75 1217.06 780.76 1222.36 780.76 C1227.67 780.77 1232.97 780.76 1238.27 780.76 C1243.58 780.76 1248.88 780.77 1254.18 780.76 C1259.48 780.76 1264.79 780.76 1270.09 780.74 C1275.39 780.71 1280.7 780.73 1286 780.63 C1291.3 780.53 1296.61 780.48 1301.91 780.14 C1307.21 779.8 1312.52 779.6 1317.82 778.58 C1323.12 777.57 1328.42 775.21 1333.73 774.03 C1339.03 772.85 1344.33 772.32 1349.64 771.48 C1354.94 770.65 1360.24 768.81 1365.55 769.04 C1370.85 769.27 1376.15 772.43 1381.45 772.87 C1386.76 773.31 1392.06 771.79 1397.36 771.66 C1402.67 771.52 1407.97 771.73 1413.27 772.05 C1418.58 772.37 1423.88 773.16 1429.18 773.57 C1434.48 773.98 1439.79 773.38 1445.09 774.52 C1450.39 775.66 1458.35 779.45 1461 780.43" fill="none" stroke="#86a9db" stroke-width="1"/>
<g stroke="#c6d3e6" stroke-width="1" fill="none" shape-rendering="crispEdges"><path d="M188.5 756.5 V783.0"/><path d="M316.5 756.5 V783.0"/><path d="M443.5 756.5 V783.0"/><path d="M570.5 756.5 V783.0"/><path d="M697.5 756.5 V783.0"/><path d="M825.5 756.5 V783.0"/><path d="M952.5 756.5 V783.0"/><path d="M1079.5 756.5 V783.0"/><path d="M1206.5 756.5 V783.0"/><path d="M1334.5 756.5 V783.0"/><path d="M1461.5 756.5 V783.0"/></g>
<rect x="61.5" y="756.5" width="1399" height="26.5" fill="none" stroke="#b9c2d0" stroke-width="1"/>
<g font-size="7.8" fill="#8a8f99" class="cf" letter-spacing=".32"><text x="63.5" y="780.3">2. Mar</text><text x="190.77" y="780.3">08:00</text><text x="318.05" y="780.3">16:00</text><text x="445.32" y="780.3">3. Mar</text><text x="572.59" y="780.3">08:00</text><text x="699.86" y="780.3">16:00</text><text x="827.14" y="780.3">4. Mar</text><text x="954.41" y="780.3">08:00</text><text x="1081.68" y="780.3">16:00</text><text x="1208.95" y="780.3">5. Mar</text><text x="1336.23" y="780.3">08:00</text><text x="1472.5" y="780.3" text-anchor="end">16:00</text></g>
<g stroke="#b2b1b6" stroke-width="1" fill="#ebe7e8">
<rect x="58.5" y="764.5" width="6" height="10.5" rx="1"/><rect x="1457.5" y="764.5" width="6" height="10.5" rx="1"/>
<path d="M60.5 767 v5.5 M62.5 767 v5.5 M1459.5 767 v5.5 M1461.5 767 v5.5" stroke-width=".6"/>
</g>
</svg></div></div>
</body></html>
